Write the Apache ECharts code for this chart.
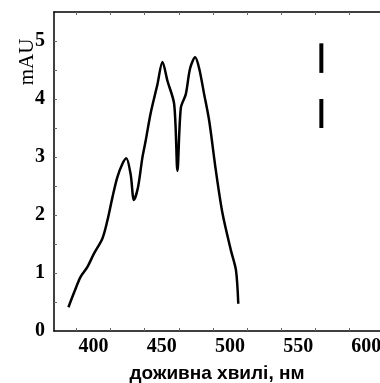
<!DOCTYPE html>
<html lang="uk">
<head>
  <meta charset="UTF-8">
  <title>mAU spectrum</title>
  <style>
    html, body { margin: 0; padding: 0; background: #fff; }
    #chart { width: 380px; height: 383px; }
  </style>
  <script src="https://cdn.jsdelivr.net/npm/echarts@6/dist/echarts.min.js"></script>
</head>
<body>
  <div id="chart"></div>
  <script>
    // спектр
    var waveLengths = [381.6, 386, 390.4, 395.4, 400.2, 406.4, 410.1, 413.8, 417.4, 421.1, 424, 427.2, 429.6, 432.6, 435.8, 438.2,
      441.9, 446.8, 450.5, 454.2, 459.1, 461.5, 464, 467.6, 470.8, 474.5, 477.4, 481.1, 484.8, 489.7, 494.6, 500.7, 504.4, 506.1];
    var absorbance = [0.41, 0.68, 0.93, 1.10, 1.33, 1.59, 1.90, 2.30, 2.65, 2.88, 2.98, 2.70, 2.26, 2.48, 2.99, 3.28,
      3.76, 4.25, 4.64, 4.31, 3.91, 2.76, 3.85, 4.08, 4.53, 4.72, 4.53, 4.08, 3.62, 2.76, 2.02, 1.39, 1.05, 0.47];
    // дві вертикальні позначки праворуч
    var markX = 567;
    var markA = [4.96, 4.45];
    var markB = [4.0, 3.5];

    var xLabels = [400, 450, 500, 550, 600];
    var xTicks = [387.5, 412.5, 437.5, 462.5, 487.5, 512.5, 537.5, 562.5, 587.5];
    var yLabels = [0, 1, 2, 3, 4, 5];
    var yTicks = [0.5, 1, 1.5, 2, 2.5, 3, 3.5, 4, 4.5, 5];

    var labelFont = { color: '#000', fontFamily: 'Liberation Serif', fontWeight: 'bold', fontSize: 20 };

    var myChart = echarts.init(document.getElementById('chart'));
    var option = {
      animation: false,
      grid: { left: 54, right: 0, top: 12, bottom: 52, containLabel: false, outerBoundsMode: 'none' },
      xAxis: [
        {
          type: 'value', min: 371, max: 610,
          name: 'доживна хвилі, нм',
          nameLocation: 'middle',
          nameGap: 33,
          nameTextStyle: { color: '#000', fontFamily: 'Liberation Sans', fontWeight: 'bold', fontSize: 19 },
          axisLine: { show: true, onZero: false, lineStyle: { color: '#000', width: 1.5 } },
          axisTick: { show: true, inside: true, length: 3, customValues: xTicks, lineStyle: { color: '#666' } },
          axisLabel: Object.assign({ customValues: xLabels, margin: 6 }, labelFont),
          splitLine: { show: false }
        },
        {
          type: 'value', min: 371, max: 610, position: 'top',
          axisLine: { show: true, onZero: false, lineStyle: { color: '#000', width: 1.5 } },
          axisTick: { show: true, inside: true, length: 3, customValues: xTicks, lineStyle: { color: '#666' } },
          axisLabel: { show: false },
          splitLine: { show: false }
        }
      ],
      yAxis: {
        type: 'value', min: 0, max: 5.5,
        axisLine: { show: true, onZero: false, lineStyle: { color: '#000', width: 1.5 } },
        axisTick: { show: true, inside: true, length: 3, customValues: yTicks, lineStyle: { color: '#666' } },
        axisLabel: Object.assign({ customValues: yLabels, margin: 9 }, labelFont),
        splitLine: { show: false }
      },
      graphic: [{
        type: 'text',
        x: 27, y: 62,
        rotation: Math.PI / 2,
        style: {
          text: 'mAU',
          fill: '#000',
          font: '21px "Liberation Serif"',
          textAlign: 'center',
          textVerticalAlign: 'middle'
        }
      }],
      series: [
        {
          type: 'line',
          data: waveLengths.map(function (w, i) { return [w, absorbance[i]]; }),
          smooth: 0.3,
          showSymbol: false,
          lineStyle: { color: '#000', width: 2.5 }
        },
        {
          type: 'line',
          data: markA.map(function (v) { return [markX, v]; }),
          showSymbol: false,
          lineStyle: { color: '#000', width: 4 }
        },
        {
          type: 'line',
          data: markB.map(function (v) { return [markX, v]; }),
          showSymbol: false,
          lineStyle: { color: '#000', width: 4 }
        }
      ]
    };
    myChart.setOption(option);
  </script>
</body>
</html>
